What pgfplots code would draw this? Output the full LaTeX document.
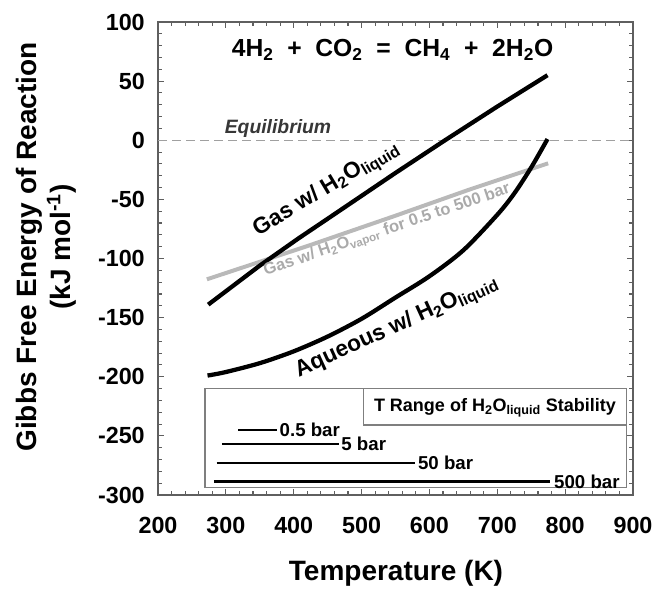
\documentclass[border=0pt]{standalone}
\usepackage{fontspec}
\setmainfont{Liberation Sans}
\usepackage{pgfplots}
\pgfplotsset{compat=1.18}
\definecolor{frameGray}{RGB}{95,95,95}
\definecolor{vapGray}{RGB}{185,185,185}
\definecolor{vapText}{RGB}{170,170,170}
\definecolor{dashGray}{RGB}{160,160,160}
\definecolor{eqText}{RGB}{55,55,55}
\newcommand{\fs}[1]{\fontsize{#1}{1.2\dimexpr #1pt\relax}\selectfont\bfseries}
\newcommand{\sub}[1]{\textsubscript{#1}}
\begin{document}
\begin{tikzpicture}
\begin{axis}[
  name=ax, at={(0,0)}, anchor=south west, scale only axis,
  width=356.25pt, height=354.75pt,
  xmin=200, xmax=900, ymin=-300, ymax=100,
  xtick={200,300,400,500,600,700,800,900},
  xticklabels={200,300,400,500,600,700,800,900},
  ytick={-300,-250,-200,-150,-100,-50,0,50,100},
  yticklabels={-300,-250,-200,-150,-100,-50,0,50,100},
  minor x tick num=4, minor y tick num=4,
  tick align=inside, xtick pos=both, ytick pos=both,
  major tick length=4.5pt, minor tick length=3pt,
  axis line style={draw=frameGray, line width=1pt},
  every tick/.style={draw=frameGray, line width=0.8pt},
  xticklabel style={font=\fs{17.5}, inner sep=0pt, anchor=north, yshift=-16.5pt},
  yticklabel style={font=\fs{17.5}, inner sep=0pt, anchor=east, xshift=-9.75pt},
]
% equilibrium line
\addplot[dashGray, line width=1.1pt, dash pattern=on 6.5pt off 4pt] coordinates {(200,0) (900,0)};
% gas with vapour (grey)
\addplot[vapGray, line width=3pt] coordinates {(272,-117.6) (420,-89.5) (549,-64) (660,-41.5) (775,-19.5)};
% gas with liquid water
\addplot[black, line width=3.2pt] coordinates {
  (274,-139) (350,-106) (407,-83) (451,-66) (500,-47) (549,-28) (623,0) (700,28.5) (774,55)};
% aqueous with liquid water
\addplot[black, line width=3.2pt, smooth] coordinates {
  (273,-199) (300,-196) (350,-188.5) (400,-178.5) (450,-166) (500,-151) (550,-133)
  (600,-115) (650,-93) (700,-63) (725,-45) (750,-23) (774,1)};
% legend box: liquid water stability ranges
\draw[draw=frameGray!80, line width=0.8pt] (axis cs:269.3,-209.8) rectangle (axis cs:890.7,-293.5);
\draw[draw=frameGray!80, line width=0.8pt] (axis cs:502.5,-209.8) -- (axis cs:502.5,-240.8) -- (axis cs:890.7,-240.8);
\addplot[black, line width=2pt] coordinates {(318,-245) (375,-245)};
\addplot[black, line width=2pt] coordinates {(294,-257) (466,-257)};
\addplot[black, line width=2pt] coordinates {(286.5,-273) (579,-273)};
\addplot[black, line width=2pt] coordinates {(282.5,-288.7) (777.6,-288.7)};
\node[anchor=west, inner sep=2pt, font=\fs{14}] at (axis cs:375,-245) {0.5 bar};
\node[anchor=west, inner sep=2pt, font=\fs{14}] at (axis cs:466,-257) {5 bar};
\node[anchor=west, inner sep=2pt, font=\fs{14}] at (axis cs:579,-273) {50 bar};
\node[anchor=west, inner sep=3pt, font=\fs{14}] at (axis cs:777.6,-288.7) {500 bar};
\node[anchor=base, font=\fs{13.5}] at (axis cs:696.6,-229.6) {T Range of H\sub{2}O\sub{liquid} Stability};
% annotations
\node[anchor=base, font=\fs{18.5}] at (axis cs:545.6,70.7)
  {4H\sub{2}~~+~~CO\sub{2}~~=~~CH\sub{4}~~+~~2H\sub{2}O};
\node[anchor=base, text=eqText, font=\fs{14.5}\itshape] at (axis cs:376.8,5.9) {Equilibrium};
\node[anchor=base, rotate=31, font=\fs{17}] at (axis cs:452.3,-45) {Gas w/ H\sub{2}O\sub{liquid}};
\node[anchor=base, rotate=18.6, text=vapText, font=\fs{12.4}] at (axis cs:539.4,-79.4)
  {Gas w/ H\sub{2}O\sub{vapor} for 0.5 to 500 bar};
\node[anchor=base, rotate=24.5, font=\fs{17}] at (axis cs:555,-161.8) {Aqueous w/ H\sub{2}O\sub{liquid}};
\end{axis}
\node[anchor=base, font=\fs{21}] at (178.5pt,-63.75pt) {Temperature (K)};
\node[rotate=90, align=center, font=\fs{21}, text depth=0pt] at (-85.9pt,186pt)
  {\fontsize{21}{29}\selectfont\bfseries Gibbs Free Energy of Reaction\\(kJ mol\textsuperscript{-1})};
\path[use as bounding box] (-118.5pt,-66.75pt) rectangle (372.75pt,371.25pt);
\end{tikzpicture}
\end{document}
